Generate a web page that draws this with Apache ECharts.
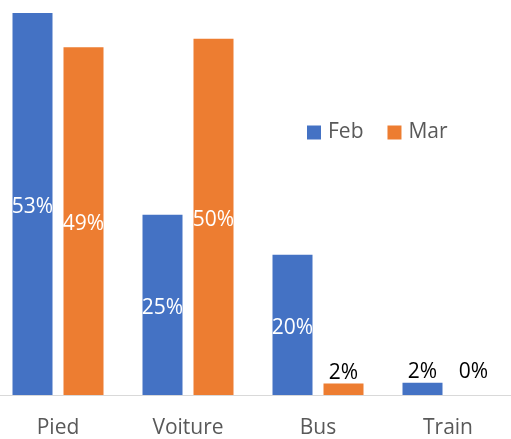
<!DOCTYPE html>
<html>
<head>
<meta charset="utf-8">
<script src="https://cdn.jsdelivr.net/npm/echarts@6/dist/echarts.min.js"></script>
<style>
html,body{margin:0;padding:0;background:#fff;overflow:hidden;}
#chart{width:520px;height:439px;margin-left:-7px;}
</style>
</head>
<body>
<div id="chart"></div>
<script>
const categories = ['Pied', 'Voiture', 'Bus', 'Train'];
const seriesNames = ['Feb', 'Mar'];
const febValues = [53.4, 25.2, 19.6, 1.7];
const marValues = [48.6, 49.8, 1.6, 0];

const FONT = '"Open Sans", "Liberation Sans", sans-serif';
const colors = ['#4472C4', '#ED7D31'];

function buildData(values) {
  return values.map(v => {
    if (v < 5) {
      return {
        value: v,
        label: {
          position: 'top',
          color: '#000',
          distance: v === 0 ? 15 : 3
        }
      };
    }
    return { value: v };
  });
}

const chart = echarts.init(document.getElementById('chart'), null, {renderer: 'canvas'});
chart.setOption({
  animation: false,
  color: colors,
  grid: { left: 0, right: 0, top: 0, bottom: 41.7, containLabel: false },
  legend: {
    data: seriesNames,
    left: 309,
    top: 117,
    itemWidth: 14,
    itemHeight: 14,
    itemGap: 24,
    icon: 'rect',
    textStyle: { fontFamily: FONT, fontSize: 21, color: '#595959', padding: [0, 0, 0, 2] }
  },
  xAxis: {
    type: 'category',
    data: categories,
    axisLine: { lineStyle: { color: '#D9D9D9', width: 1 } },
    axisTick: { show: false },
    axisLabel: { fontFamily: FONT, fontSize: 21, color: '#595959', margin: 23 }
  },
  yAxis: {
    type: 'value',
    min: 0,
    max: 55.2,
    show: false,
    splitLine: { show: false }
  },
  series: [
    {
      name: seriesNames[0],
      type: 'bar',
      data: buildData(febValues),
      barWidth: 40,
      barGap: '27.5%',
      label: {
        show: true,
        position: 'inside',
        offset: [0, 3],
        color: '#fff',
        fontFamily: FONT,
        fontSize: 21,
        formatter: p => Math.round(p.value) + '%'
      }
    },
    {
      name: seriesNames[1],
      type: 'bar',
      data: buildData(marValues),
      barWidth: 40,
      barGap: '27.5%',
      label: {
        show: true,
        position: 'inside',
        offset: [0, 3],
        color: '#fff',
        fontFamily: FONT,
        fontSize: 21,
        formatter: p => Math.round(p.value) + '%'
      }
    }
  ]
});
</script>
</body>
</html>
